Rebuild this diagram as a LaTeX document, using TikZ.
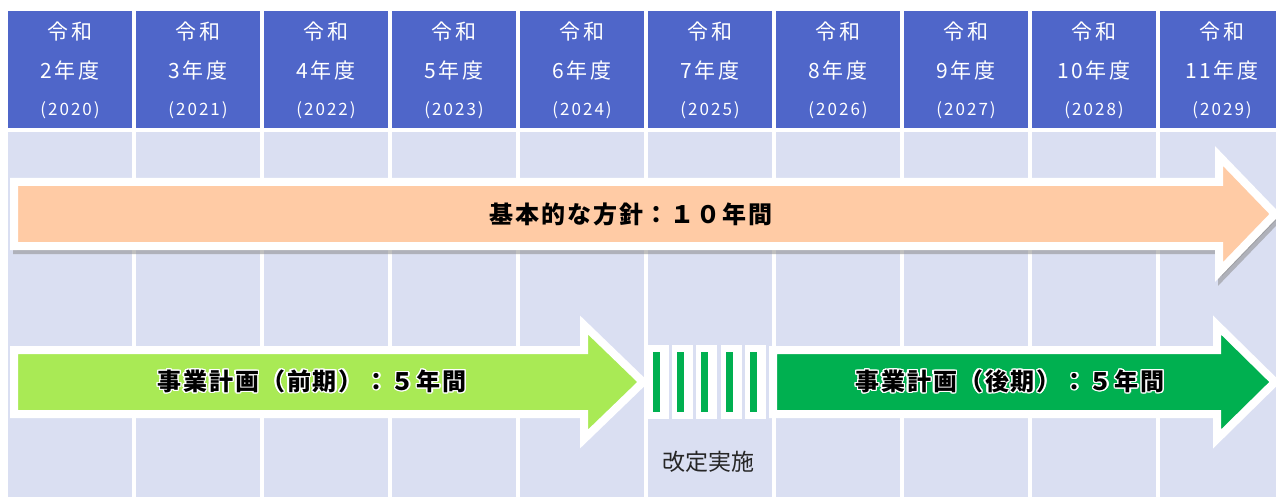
\documentclass[tikz,border=0pt]{standalone}
\usepackage{fontspec}
\setmainfont{Noto Sans CJK JP}
\newfontfamily\headfont{Noto Sans CJK JP}[LetterSpace=12]
\newfontfamily\planfont{Noto Sans CJK JP}[LetterSpace=8]
\usepackage{contour}
\contourlength{1.4pt}
\usetikzlibrary{calc}

\definecolor{headblue}{HTML}{4F66C9}
\definecolor{cellbg}{HTML}{DADFF2}
\definecolor{peach}{HTML}{FFCBA5}
\definecolor{lightgrn}{HTML}{A9EA55}
\definecolor{darkgrn}{HTML}{00B050}

\tikzset{yearcell/.style={fill=headblue}}
\tikzset{bodycell/.style={fill=cellbg}}
\tikzset{blockline/.style={draw=white, line width=8pt, line join=miter}}
\tikzset{shadowline/.style={draw=black!45, fill=black!45, line width=8pt, opacity=.55}}
\tikzset{eratext/.style={text=white, inner sep=0pt, font=\headfont\fontsize{21}{21}\selectfont}}
\tikzset{adtext/.style={text=white, inner sep=0pt, font=\headfont\fontsize{17}{17}\selectfont}}
\tikzset{plantext/.style={inner sep=0pt, font=\planfont\bfseries\fontsize{24}{24}\selectfont}}

% left x, head base x, tip x, centre y, shaft half, head half
\newcommand{\blockarrow}[6]{(#1,#4-#5) -- (#2,#4-#5) -- (#2,#4-#6) -- (#3,#4) -- (#2,#4+#6) -- (#2,#4+#5) -- (#1,#4+#5) -- cycle}

\begin{document}
\begin{tikzpicture}[x=1pt, y=-1pt]
\useasboundingbox (0,0) rectangle (1276,497);
\clip (0,0) rectangle (1276,497);
\fill[white] (0,0) rectangle (1276,497);

% year columns
\foreach \n [count=\i from 0] in {2,...,11} {
  \pgfmathtruncatemacro{\ad}{2018+\n}
  \fill[yearcell] (8+128*\i,11) rectangle +(124,117);
  \fill[bodycell] (8+128*\i,132) rectangle +(124,370);
  \node[eratext] (era\n) at (70+128*\i,32) {令和};
  \node[eratext] (yr\n) at (70+128*\i,71) {\n 年度};
  \node[adtext] (ad\n) at (70+128*\i,110) {(\ad)};
}

% basic policy
\draw[shadowline, shift={(3,4)}] \blockarrow{14}{1219}{1275}{214}{32}{58};
\draw[blockline, fill=peach] \blockarrow{14}{1219}{1275}{214}{32}{58};
\node[plantext] (policy) at (631,214) {基本的な方針：１０年間};

% first half plan
\draw[blockline, fill=lightgrn] \blockarrow{14}{584}{643}{382}{32}{57};
\node[plantext] (plan1) at (312,382) {\contour{white}{事業計画（前期）：５年間}};

% revision
\foreach \k in {0,...,4} {
  \fill[white] (648+24.2*\k,345) rectangle +(21,74);
  \fill[darkgrn] (653+24.2*\k,352) rectangle +(7,60);
}
\node[inner sep=0pt, text=black!85, font=\fontsize{23}{23}\selectfont] (revise) at (708,462) {改定実施};

% second half plan
\draw[blockline, fill=darkgrn] \blockarrow{773}{1217}{1275}{382}{32}{57};
\node[plantext] (plan2) at (1010,382) {\contour{white}{事業計画（後期）：５年間}};
\end{tikzpicture}
\end{document}
